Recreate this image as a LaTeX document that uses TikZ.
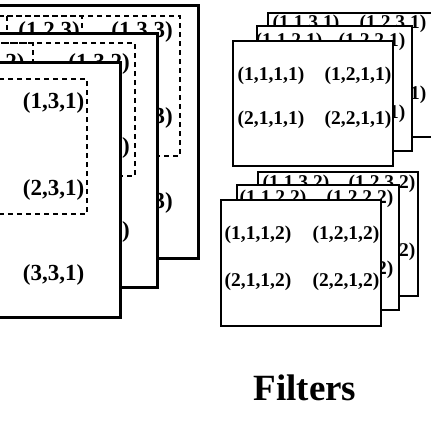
\documentclass[tikz,border=0pt]{standalone}
\usepackage{fontspec}
\setmainfont{Liberation Serif}
\usepackage{tikz}
\tikzstyle{slice}=[draw,fill=white,line width=3pt]
\tikzstyle{window}=[draw,line width=1.2pt,dash pattern=on 5pt off 4pt]
\tikzstyle{kernel}=[draw,fill=white,line width=1.1pt]
\tikzstyle{entry}=[anchor=base,inner sep=0pt,font=\bfseries\fontsize{23}{23}\selectfont]
\tikzstyle{kentry}=[anchor=base,inner sep=0pt,font=\bfseries\fontsize{19.5}{19.5}\selectfont]
\begin{document}
\begin{tikzpicture}[x=1pt,y=-1pt]
    \useasboundingbox (0,0) rectangle (431,431);
    \clip (0,0) rectangle (431,431);
    % input volume, back to front
    \path[slice] (-100,5) rectangle (198,258);
    \path[window] (-100,16) rectangle (82,156);
    \path[window] (7,16) rectangle (180,156);
    \node[entry] (i123) at (49,37) {(1,2,3)};
    \node[entry] (i133) at (142,37) {(1,3,3)};
    \node[entry] (i233) at (142,123) {(2,3,3)};
    \node[entry] (i333) at (142,208) {(3,3,3)};

    \path[slice] (-100,33) rectangle (157,287);
    \path[window] (-100,43) rectangle (33,176);
    \path[window] (-100,43) rectangle (135,176);
    \node[entry] (i122) at (-6,69) {(1,2,2)};
    \node[entry] (i132) at (99,69) {(1,3,2)};
    \node[entry] (i232) at (99,153) {(2,3,2)};
    \node[entry] (i332) at (99,237) {(3,3,2)};

    \path[slice] (-100,62) rectangle (120,317);
    \path[window] (-100,79) rectangle (87,214);
    \node[entry] (i131) at (53.5,108) {(1,3,1)};
    \node[entry] (i231) at (53.5,195) {(2,3,1)};
    \node[entry] (i331) at (53.5,280) {(3,3,1)};

    % first filter
    \path[kernel] (268,13) rectangle (440,137);
    \node[kentry] (f1131) at (306,28) {(1,1,3,1)};
    \node[kentry] (f1231) at (393,28) {(1,2,3,1)};
    \node[kentry] (f2131) at (306,99) {(2,1,3,1)};
    \node[kentry] (f2231) at (393,99) {(2,2,3,1)};
    \path[kernel] (257,26) rectangle (412,151);
    \node[kentry] (f1121) at (289,46) {(1,1,2,1)};
    \node[kentry] (f1221) at (372,46) {(1,2,2,1)};
    \node[kentry] (f2121) at (289,118) {(2,1,2,1)};
    \node[kentry] (f2221) at (372,118) {(2,2,2,1)};
    \path[kernel] (233,41) rectangle (393,166);
    \node[kentry] (f1111) at (271,80) {(1,1,1,1)};
    \node[kentry] (f1211) at (358,80) {(1,2,1,1)};
    \node[kentry] (f2111) at (271,124) {(2,1,1,1)};
    \node[kentry] (f2211) at (358,124) {(2,2,1,1)};

    % second filter
    \path[kernel] (258,172) rectangle (418,296);
    \node[kentry] (f1132) at (296,188) {(1,1,3,2)};
    \node[kentry] (f1232) at (382,188) {(1,2,3,2)};
    \node[kentry] (f2132) at (296,256) {(2,1,3,2)};
    \node[kentry] (f2232) at (382,256) {(2,2,3,2)};
    \path[kernel] (237,185) rectangle (399,310);
    \node[kentry] (f1122) at (273,203) {(1,1,2,2)};
    \node[kentry] (f1222) at (360,203) {(1,2,2,2)};
    \node[kentry] (f2122) at (273,274) {(2,1,2,2)};
    \node[kentry] (f2222) at (360,274) {(2,2,2,2)};
    \path[kernel] (221,200) rectangle (381,326);
    \node[kentry] (f1112) at (258,239) {(1,1,1,2)};
    \node[kentry] (f1212) at (346,239) {(1,2,1,2)};
    \node[kentry] (f2112) at (258,286) {(2,1,1,2)};
    \node[kentry] (f2212) at (346,286) {(2,2,1,2)};

    \node[anchor=base,inner sep=0pt,font=\bfseries\fontsize{37}{37}\selectfont] (title) at (305,400) {Filters};
\end{tikzpicture}
\end{document}
